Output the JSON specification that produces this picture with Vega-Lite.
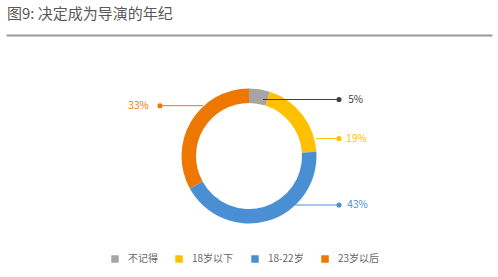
{
  "$schema": "https://vega.github.io/schema/vega-lite/v6.json",
  "autosize": {"type": "none"},
  "width": 486,
  "height": 242,
  "padding": {"left": 6, "top": 35, "right": 6, "bottom": 0},
  "background": "white",
  "title": {
    "text": "图9: 决定成为导演的年纪",
    "anchor": "start",
    "orient": "top",
    "offset": 13,
    "font": "Noto Sans CJK SC",
    "fontSize": 15,
    "fontWeight": "normal",
    "color": "#595959",
    "dx": 1
  },
  "config": {
    "view": {"stroke": null},
    "font": "Noto Sans CJK SC"
  },
  "datasets": {
    "slices": [
      {"cat": "不记得", "pct": 5, "idx": 1},
      {"cat": "18岁以下", "pct": 19, "idx": 2},
      {"cat": "18-22岁", "pct": 43, "idx": 3},
      {"cat": "23岁以后", "pct": 33, "idx": 4}
    ],
    "labels": [
      {"cat": "不记得", "label": "5%", "ly": 56.5, "lx0": 14, "lx1": 90, "tx": 106.5},
      {"cat": "18岁以下", "label": "19%", "ly": 17.5, "lx0": 67, "lx1": 90, "tx": 107.5},
      {"cat": "18-22岁", "label": "43%", "ly": -49, "lx0": 46, "lx1": 90, "tx": 108.5},
      {"cat": "23岁以后", "label": "33%", "ly": 50.3, "lx0": -46, "lx1": -89, "tx": -110.5}
    ]
  },
  "resolve": {"scale": {"color": "independent"}},
  "layer": [
    {
      "data": {"name": "slices"},
      "mark": {"type": "arc", "innerRadius": 53, "outerRadius": 67.5, "stroke": null},
      "encoding": {
        "theta": {"field": "pct", "type": "quantitative", "stack": true},
        "order": {"field": "idx", "type": "quantitative"},
        "color": {
          "field": "cat",
          "type": "nominal",
          "scale": {
            "domain": ["不记得", "18岁以下", "18-22岁", "23岁以后"],
            "range": ["#A5A5A5", "#FFC000", "#4A8FD3", "#EE7700"]
          },
          "legend": {
            "title": null,
            "orient": "none",
            "direction": "horizontal",
            "legendX": 104,
            "legendY": 219,
            "padding": 0,
            "symbolType": "square",
            "symbolSize": 56,
            "symbolStrokeWidth": 0,
            "labelOffset": 8,
            "columnPadding": 16,
            "labelFontSize": 10,
            "labelColor": "#666666",
            "labelFont": "Noto Sans CJK SC"
          }
        }
      }
    },
    {
      "data": {"name": "labels"},
      "layer": [
        {
          "mark": {"type": "rule", "strokeWidth": 1},
          "encoding": {
            "x": {
              "field": "lx0",
              "type": "quantitative",
              "scale": {"domain": [-243, 243], "nice": false, "zero": false},
              "axis": {
                "orient": "top",
                "domain": true,
                "domainColor": "#9a9a9a",
                "domainWidth": 2,
                "ticks": false,
                "labels": false,
                "grid": false,
                "title": null
              }
            },
            "x2": {"field": "lx1"},
            "y": {
              "field": "ly",
              "type": "quantitative",
              "scale": {"domain": [-121, 121], "nice": false, "zero": false},
              "axis": null
            },
            "color": {
              "field": "cat",
              "type": "nominal",
              "scale": {
                "domain": ["不记得", "18岁以下", "18-22岁", "23岁以后"],
                "range": ["#404040", "#FFC000", "#4A8FD3", "#EE7700"]
              },
              "legend": null
            }
          }
        },
        {
          "mark": {"type": "point", "filled": true, "size": 26, "opacity": 1},
          "encoding": {
            "x": {"field": "lx1", "type": "quantitative"},
            "y": {"field": "ly", "type": "quantitative"},
            "color": {"field": "cat", "type": "nominal", "legend": null}
          }
        },
        {
          "mark": {"type": "text", "fontSize": 10, "align": "center", "baseline": "middle", "font": "Noto Sans CJK SC"},
          "encoding": {
            "x": {"field": "tx", "type": "quantitative"},
            "y": {"field": "ly", "type": "quantitative"},
            "text": {"field": "label"},
            "color": {"field": "cat", "type": "nominal", "legend": null}
          }
        }
      ]
    }
  ]
}
